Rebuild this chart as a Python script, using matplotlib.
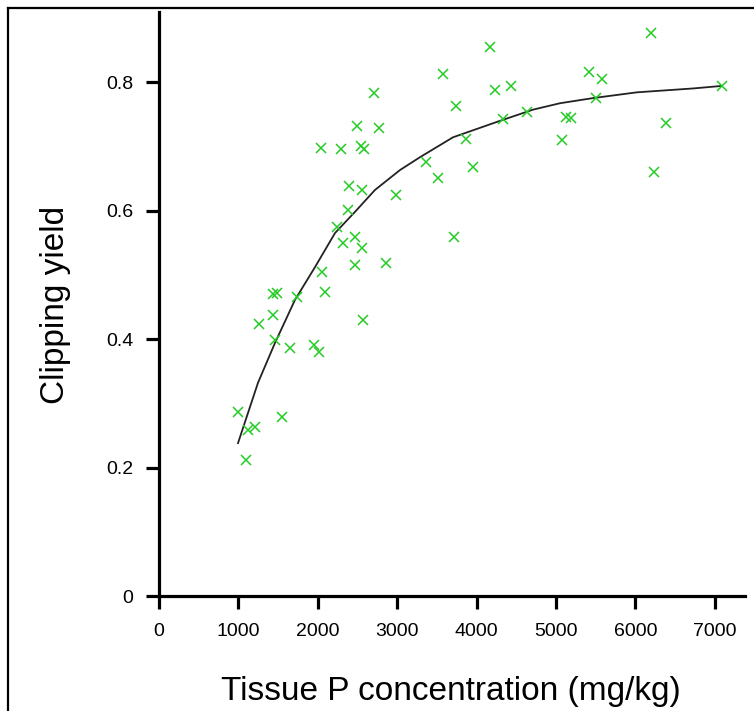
import numpy as np
import matplotlib
matplotlib.use("Agg")
import matplotlib.pyplot as plt
from matplotlib.lines import Line2D

plt.rcParams['font.family'] = ['Liberation Sans', 'DejaVu Sans']

# Observed points: tissue P (mg/kg) vs clipping yield
tissue_p = [995, 1121, 1209, 1096, 1549, 1259, 1436, 1486, 1738, 1436,
            1461, 1650, 1952, 2015, 2053, 2091, 2040, 2292, 2544, 2582,
            2494, 2771, 2393, 2557, 2985, 2380, 2242, 2469, 2317, 2557,
            2469, 2859, 2569, 2708, 3363, 3514, 3577, 3741, 3715, 3866,
            3955, 4169, 4232, 4433, 4332, 4635, 5076, 5126, 5189, 5416,
            5579, 5504, 6196, 6385, 6234, 7091]
yield_obs = [0.286, 0.258, 0.263, 0.212, 0.279, 0.423, 0.470, 0.472, 0.465, 0.437,
             0.398, 0.386, 0.391, 0.380, 0.504, 0.473, 0.697, 0.696, 0.700, 0.696,
             0.732, 0.728, 0.638, 0.632, 0.624, 0.601, 0.574, 0.559, 0.549, 0.542,
             0.515, 0.518, 0.430, 0.783, 0.675, 0.651, 0.812, 0.763, 0.559, 0.711,
             0.668, 0.854, 0.788, 0.794, 0.742, 0.753, 0.710, 0.746, 0.744, 0.816,
             0.805, 0.775, 0.876, 0.736, 0.660, 0.794]

# Fitted curve
fit_x = [995, 1247, 1461, 1713, 1965, 2217, 2469, 2720, 3035, 3287,
         3703, 4257, 4710, 5050, 5466, 6020, 6725, 7091]
fit_y = [0.238, 0.332, 0.394, 0.461, 0.512, 0.565, 0.598, 0.632, 0.663, 0.683,
         0.714, 0.738, 0.757, 0.767, 0.775, 0.784, 0.790, 0.794]

x_ticks = [0, 1000, 2000, 3000, 4000, 5000, 6000, 7000]
y_ticks = [0, 0.2, 0.4, 0.6, 0.8]
y_labels = ['0', '0.2', '0.4', '0.6', '0.8']

fig = plt.figure(figsize=(7.54, 7.11), dpi=100)
ax = fig.add_axes([0.2109, 0.1617, 0.777, 0.8214])

ax.plot(fit_x, fit_y, color='#222222', lw=1.3)
ax.plot(tissue_p, yield_obs, 'x', color='#22cc22', ms=7, mew=1.1)

ax.set_xlim(0, 7380)
ax.set_ylim(0, 0.909)
ax.set_xticks(x_ticks)
ax.set_xticklabels([str(v) for v in x_ticks])
ax.set_yticks(y_ticks)
ax.set_yticklabels(y_labels)

for s in ['top', 'right']:
    ax.spines[s].set_visible(False)
for s in ['left', 'bottom']:
    ax.spines[s].set_linewidth(2.3)
ax.tick_params(direction='out', length=9.5, width=2.3, labelsize=14)
ax.tick_params(axis='x', pad=10)
ax.tick_params(axis='y', pad=9)

ax.set_xlabel('Tissue P concentration (mg/kg)', fontsize=24)
ax.set_ylabel('Clipping yield', fontsize=24)
ax.xaxis.set_label_coords(0.498, -0.137)
ax.yaxis.set_label_coords(-0.150, 0.498)

# outer frame (left and top edges visible)
fig.add_artist(Line2D([8 / 754, 8 / 754], [0, 1 - 8 / 711], color='black', lw=1.6))
fig.add_artist(Line2D([8 / 754, 1], [1 - 8 / 711, 1 - 8 / 711], color='black', lw=1.6))

fig.savefig('out.png', dpi=100)
